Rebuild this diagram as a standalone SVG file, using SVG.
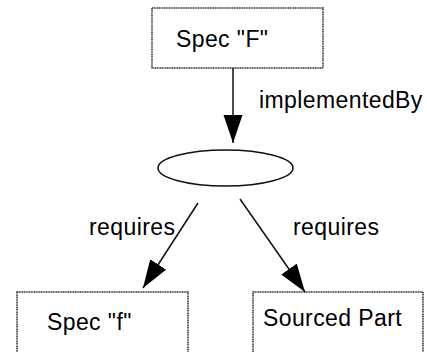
<svg xmlns="http://www.w3.org/2000/svg" width="427" height="352" viewBox="0 0 427 352">
<style>
.box{fill:#fff;stroke:#333;stroke-width:1.5;stroke-dasharray:1.2 0.5}
.lbl{font-family:"Liberation Sans",Arial,sans-serif;font-size:23px;letter-spacing:0.4px;fill:#000}
.edge{stroke:#111;stroke-width:1.5;fill:none}
</style>
<defs>
<marker id="ah" markerUnits="userSpaceOnUse" markerWidth="28" markerHeight="22" refX="28" refY="10" orient="auto">
<path d="M0,0.5 L28,10 L0,19.5 Z" fill="#000"/>
</marker>
</defs>
<rect width="427" height="352" fill="#fff"/>
<g id="specF">
<rect class="box" x="152" y="8" width="171" height="60"/>
<text class="lbl" x="176" y="47">Spec "F"</text>
</g>
<g id="junction">
<ellipse cx="225.5" cy="168" rx="67.5" ry="18" fill="#fff" stroke="#111" stroke-width="1.5"/>
</g>
<g id="specf">
<rect class="box" x="17" y="292" width="171" height="70"/>
<text class="lbl" x="47" y="330">Spec "f"</text>
</g>
<g id="sourcedPart">
<rect class="box" x="253" y="292" width="170" height="70"/>
<text class="lbl" x="263" y="326">Sourced Part</text>
</g>
<g id="connectors">
<line class="edge" x1="233" y1="68" x2="233" y2="143" marker-end="url(#ah)"/>
<line class="edge" x1="198" y1="203" x2="143" y2="288" marker-end="url(#ah)"/>
<line class="edge" x1="240" y1="199" x2="305" y2="292" marker-end="url(#ah)"/>
<text class="lbl" x="259" y="108">implementedBy</text>
<text class="lbl" x="89" y="235">requires</text>
<text class="lbl" x="293" y="235">requires</text>
</g>
</svg>
